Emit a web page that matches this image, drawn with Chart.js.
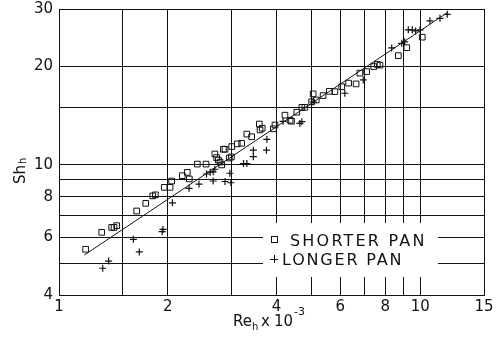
<!DOCTYPE html>
<html>
<head>
<meta charset="utf-8">
<script src="https://cdn.jsdelivr.net/npm/chart.js@4.4.1/dist/chart.umd.min.js"></script>
<style>
  body { margin: 0; background: #fff; }
  canvas { display: block; }
</style>
</head>
<body>
<canvas id="myChart" width="497" height="351"></canvas>
<script>
// axis grid / tick labels
const xGrid = [1, 1.5, 2, 3, 4, 5, 6, 7, 8, 9, 10, 15]
const xLabels = [1, 2, 4, 6, 8, 10, 15]
const yGrid = [4, 5, 6, 7, 8, 9, 10, 15, 20, 30]
const yLabels = [4, 6, 8, 10, 20, 30]

// shorter pan (squares)
const shorterX = [1.185, 1.313, 1.399, 1.42, 1.444, 1.641, 1.738, 1.817, 1.848, 1.956, 2.03,
  2.05, 2.194, 2.265, 2.294, 2.414, 2.552, 2.73, 2.70, 2.76, 2.79, 2.82, 2.85, 2.88, 2.96, 3.0, 3.006,
  3.114, 3.203, 3.31, 3.413, 3.584, 3.6, 3.65,
  3.92, 3.96, 4.22, 4.36, 4.4, 4.55, 4.7, 4.79, 5.0, 5.05, 5.15, 5.38, 5.6, 5.8, 6.06, 6.33, 6.64,
  6.8, 7.1, 7.43, 7.6, 7.73, 8.69, 9.17, 10.12]
const shorterY = [5.52, 6.22, 6.44, 6.44, 6.52, 7.23, 7.63, 8.04, 8.1, 8.54, 8.54,
  8.93, 9.27, 9.49, 9.06, 10.06, 10.06, 10.53, 10.8, 10.35, 10.2, 10.0, 11.17, 11.17, 10.5, 10.58, 11.38,
  11.6, 11.65, 12.43, 12.2, 13.34, 12.8, 12.95,
  12.9, 13.25, 14.2, 13.7, 13.6, 14.5, 15.0, 15.0, 15.6, 16.5, 15.8, 16.3, 16.8, 16.76, 17.35, 17.8, 17.7,
  19.1, 19.3, 20.0, 20.3, 20.2, 21.6, 22.85, 24.6]

// longer pan (crosses)
const longerX = [1.321, 1.372, 1.606, 1.668, 1.93, 1.94, 2.06, 2.29, 2.44, 2.56, 2.62, 2.67, 2.7,
  2.67, 2.88, 2.97, 2.99, 3.24, 3.31, 3.45, 3.45, 3.75, 3.76, 4.17, 4.64, 4.7, 5.05, 6.18, 6.95,
  8.33, 8.88, 9.05, 9.26, 9.5, 9.7, 9.98, 10.63, 11.33, 11.87]
const longerY = [4.83, 5.08, 5.92, 5.42, 6.25, 6.35, 7.66, 8.48, 8.74, 9.38, 9.5, 8.93, 9.7,
  9.53, 8.9, 9.43, 8.82, 10.1, 10.1, 11.1, 10.6, 11.1, 11.98, 13.6, 13.4, 13.56, 15.6, 16.57, 18.2,
  22.8, 23.56, 23.8, 25.9, 25.9, 25.7, 25.9, 27.6, 28.1, 28.9]

// fitted line
const fitX = [1.175, 11.85]
const fitY = [5.3, 29.2]

function pts(xs, ys) {
  return xs.map(function (x, i) { return { x: x, y: ys[i] } })
}

const ink = '#111'
const font = 'DejaVu Sans'

const titles = {
  id: 'titles',
  afterDraw(chart) {
    const ctx = chart.ctx
    ctx.save()
    ctx.fillStyle = ink
    ctx.textBaseline = 'alphabetic'
    // x title: Re_h x 10^-3
    ctx.font = '15px "' + font + '"'
    ctx.fillText('Re', 233, 326)
    let w = ctx.measureText('Re').width
    ctx.font = '10px "' + font + '"'
    ctx.fillText('h', 233 + w, 330)
    ctx.font = '15px "' + font + '"'
    ctx.fillText('x', 261, 326)
    ctx.fillText('10', 274, 326)
    ctx.font = '11px "' + font + '"'
    ctx.fillText('-3', 294, 315)
    // y title: Sh_h
    ctx.translate(25, 184)
    ctx.rotate(-Math.PI / 2)
    ctx.font = '15px "' + font + '"'
    ctx.fillText('Sh', 0, 0)
    w = ctx.measureText('Sh').width
    ctx.font = '10px "' + font + '"'
    ctx.fillText('h', w + 1, 1)
    ctx.restore()
  }
}

const legendBox = {
  id: 'legendBox',
  afterDatasetsDraw(chart) {
    const ctx = chart.ctx
    ctx.save()
    ctx.fillStyle = '#fff'
    ctx.fillRect(263, 223, 175, 54)
    ctx.strokeStyle = ink
    ctx.lineWidth = 1
    ctx.strokeRect(271.5, 236.5, 6, 6)
    ctx.beginPath()
    ctx.moveTo(270, 259.5); ctx.lineTo(278, 259.5)
    ctx.moveTo(274.5, 255); ctx.lineTo(274.5, 263)
    ctx.stroke()
    ctx.fillStyle = ink
    ctx.font = '16px "' + font + '"'
    ctx.textBaseline = 'alphabetic'
    ctx.letterSpacing = '2.2px'
    ctx.fillText(chart.data.datasets[0].label, 290, 246)
    ctx.letterSpacing = '1.8px'
    ctx.fillText(chart.data.datasets[1].label, 282, 265)
    ctx.restore()
  }
}

function logAxis(min, max, grid, labels, fit) {
  return {
    type: 'logarithmic',
    min: min,
    max: max,
    afterBuildTicks: function (scale) {
      scale.ticks = grid.map(function (v) { return { value: v } })
    },
    afterFit: function (s) {
      fit(s)
      s.paddingTop = 0
      s.paddingBottom = 0
      s.paddingLeft = 0
      s.paddingRight = 0
    },
    grid: { color: ink, lineWidth: 1, drawTicks: false },
    border: { display: true, color: ink, width: 1 },
    ticks: {
      autoSkip: false,
      maxRotation: 0,
      color: ink,
      font: { family: font, size: 15 },
      callback: function (value) {
        return labels.indexOf(value) >= 0 ? String(value) : ''
      }
    }
  }
}

const xAxis = logAxis(1, 15, xGrid, xLabels, function (s) { s.height = 56 })
xAxis.ticks.padding = 3
const yAxis = logAxis(4, 30, yGrid, yLabels, function (s) { s.width = 59 })
yAxis.ticks.padding = 6

const ctx = document.getElementById('myChart')
const myChart = new Chart(ctx, {
  type: 'scatter',
  data: {
    datasets: [{
      label: 'SHORTER PAN',
      data: pts(shorterX, shorterY),
      pointStyle: 'rect',
      pointRadius: 4,
      borderColor: ink,
      backgroundColor: 'rgba(0,0,0,0)',
      borderWidth: 1
    }, {
      label: 'LONGER PAN',
      data: pts(longerX, longerY),
      pointStyle: 'cross',
      pointRadius: 3.5,
      borderColor: ink,
      borderWidth: 1.2
    }, {
      label: 'fit',
      data: pts(fitX, fitY),
      showLine: true,
      pointRadius: 0,
      borderColor: ink,
      borderWidth: 1
    }]
  },
  options: {
    responsive: false,
    animation: false,
    devicePixelRatio: 1,
    layout: { padding: { top: 9, right: 13, left: 0, bottom: 0 } },
    plugins: { legend: { display: false }, tooltip: { enabled: false } },
    scales: { x: xAxis, y: yAxis }
  },
  plugins: [legendBox, titles]
})
</script>
</body>
</html>
